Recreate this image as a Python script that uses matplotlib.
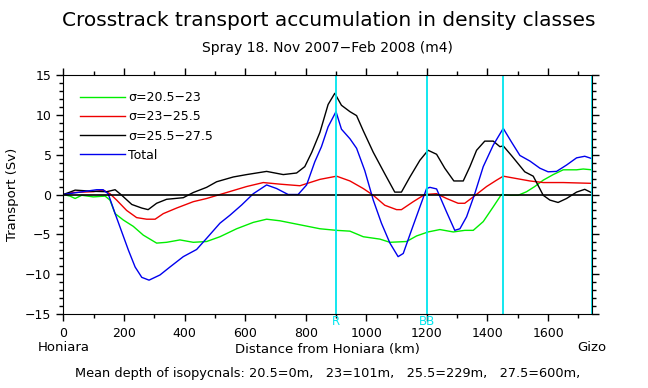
"""Crosstrack transport accumulation in density classes"""
import matplotlib

matplotlib.use("Agg")
import matplotlib.pyplot as plt
import matplotlib.transforms as mtransforms
from matplotlib.ticker import MultipleLocator

# distance along track (km) and accumulated transport (Sv)
km_green = [0, 22, 39, 61, 99, 138, 154, 171, 198, 231, 264, 308, 341, 385, 429, 473,
            517, 572, 627, 671, 715, 781, 847, 902, 946, 990, 1045, 1078, 1133, 1166,
            1204, 1243, 1287, 1325, 1353, 1386, 1419, 1446, 1474, 1501, 1529, 1556,
            1584, 1617, 1650, 1694, 1716, 1745]
sv_green = [0, -0.2, -0.5, -0.1, -0.3, -0.2, -0.7, -2.4, -3.2, -4.0, -5.1, -6.1, -6.0,
            -5.7, -6.0, -5.9, -5.3, -4.3, -3.5, -3.1, -3.3, -3.8, -4.3, -4.5, -4.6,
            -5.3, -5.6, -6.0, -5.9, -5.2, -4.7, -4.4, -4.7, -4.5, -4.5, -3.4, -1.55,
            0, -0.1, -0.1, 0.35, 1.0, 1.8, 2.5, 3.1, 3.1, 3.2, 3.1]

km_red = [0, 33, 99, 132, 154, 176, 209, 242, 275, 303, 330, 374, 429, 473, 539, 605,
          660, 715, 781, 847, 902, 946, 990, 1023, 1061, 1100, 1116, 1155, 1193, 1232,
          1265, 1303, 1325, 1353, 1397, 1430, 1452, 1496, 1540, 1584, 1650, 1745]
sv_red = [0, 0.25, 0.35, 0.55, 0.1, -0.7, -2.0, -2.9, -3.1, -3.1, -2.4, -1.7, -0.9,
          -0.5, 0.25, 1.0, 1.5, 1.3, 1.1, 1.9, 2.3, 1.7, 0.75, -0.1, -1.35, -1.9, -1.9,
          -0.9, 0, 0.1, -0.5, -1.1, -1.1, -0.3, 1.0, 1.8, 2.3, 2.0, 1.7, 1.5, 1.5, 1.4]

km_black = [0, 22, 39, 99, 143, 171, 193, 226, 259, 280, 308, 341, 396, 429, 473, 506,
            561, 605, 671, 726, 770, 797, 820, 847, 874, 896, 918, 946, 968, 990, 1023,
            1061, 1094, 1116, 1144, 1177, 1204, 1232, 1259, 1289, 1320, 1342, 1364,
            1391, 1419, 1441, 1452, 1479, 1523, 1551, 1584, 1606, 1633, 1661, 1694,
            1721, 1745]
sv_black = [0, 0.3, 0.55, 0.4, 0.35, 0.6, -0.1, -1.25, -1.7, -1.9, -1.1, -0.6, -0.4,
            0.25, 0.9, 1.6, 2.2, 2.5, 2.9, 2.5, 2.7, 3.5, 5.3, 7.8, 11.3, 12.7, 11.2,
            10.4, 9.9, 8.0, 5.3, 2.6, 0.3, 0.3, 2.2, 4.3, 5.55, 5.05, 3.3, 1.7, 1.7,
            3.5, 5.55, 6.7, 6.7, 6.0, 6.1, 4.9, 2.85, 2.3, -0.1, -0.7, -1.0, -0.5, 0.3,
            0.65, 0.2]

km_total = [0, 110, 131, 148, 171, 193, 215, 237, 259, 283, 319, 352, 396, 440, 473,
            517, 550, 589, 627, 671, 704, 742, 775, 803, 830, 852, 874, 900, 918, 946,
            968, 995, 1023, 1050, 1078, 1105, 1122, 1149, 1177, 1199, 1210, 1232, 1265,
            1292, 1309, 1331, 1358, 1386, 1419, 1452, 1479, 1507, 1540, 1573, 1600,
            1628, 1661, 1694, 1721, 1745]
sv_total = [0, 0.6, 0.6, 0.1, -2.4, -4.7, -7.0, -9.1, -10.4, -10.75, -10.1, -9.1, -7.8,
            -6.9, -5.5, -3.6, -2.6, -1.3, 0.1, 1.2, 0.75, 0, 0, 1.2, 4.1, 6.0, 8.5,
            10.4, 8.2, 7.0, 5.8, 3.0, -0.7, -3.6, -6.1, -7.8, -7.4, -4.5, -1.55, 0.75,
            0.9, 0.7, -2.2, -4.5, -4.3, -2.8, 0.1, 3.5, 6.2, 8.3, 6.6, 4.9, 4.2, 3.3,
            2.85, 2.9, 3.7, 4.6, 4.8, 4.5]

labels = ["σ=20.5−23", "σ=23−25.5", "σ=25.5−27.5", "Total"]
colors = ["#00ee00", "#ee0000", "black", "#0000ee"]

markers_km = [900, 1200, 1450, 1745]
markers_txt = ["R", "BB", "", ""]

fig = plt.figure(figsize=(6.48, 3.88), dpi=100)
ax = fig.add_axes([0.0977, 0.1907, 0.8159, 0.616])

series = [(km_green, sv_green), (km_red, sv_red), (km_black, sv_black), (km_total, sv_total)]
for (x, y), lab, col in zip(series, labels, colors):
    ax.plot(x, y, color=col, lw=1.0, label=lab)

ax.axhline(0, color="black", lw=1.2)

trans = mtransforms.blended_transform_factory(ax.transData, ax.transAxes)
for xk, txt in zip(markers_km, markers_txt):
    ax.axvline(xk, color="#00e5ee", lw=1.3)
    if txt:
        ax.text(xk, -0.003, txt, transform=trans, color="#00e5ee", ha="center",
                va="top", fontsize=8.5)

ax.set_xlim(0, 1745)
ax.set_ylim(-15, 15)
ax.xaxis.set_major_locator(MultipleLocator(200))
ax.xaxis.set_minor_locator(MultipleLocator(100))
ax.yaxis.set_major_locator(MultipleLocator(5))
ax.yaxis.set_minor_locator(MultipleLocator(1))
ax.tick_params(which="both", direction="out", top=True, right=True, labelsize=9,
               width=1.0)
ax.tick_params(which="major", length=5)
ax.tick_params(which="minor", length=3)
ax.tick_params(axis="x", pad=4)
ax.set_ylabel("Transport (Sv)", fontsize=9.5)
ax.yaxis.set_label_coords(-0.083, 0.5)

ax.legend(loc="upper left", bbox_to_anchor=(0.01, 0.98), frameon=False, fontsize=9,
          handlelength=3.6, handletextpad=0.25, labelspacing=0.5)

ax.text(0, -0.142, "Honiara", transform=trans, ha="center", va="center", fontsize=9.5)
ax.text(1745, -0.142, "Gizo", transform=trans, ha="center", va="center", fontsize=9.5)
ax.text(0.5, -0.15, "Distance from Honiara (km)", transform=ax.transAxes,
        ha="center", va="center", fontsize=9.5)

fig.text(0.508, 1 - 20 / 388, "Crosstrack transport accumulation in density classes",
         ha="center", va="center", fontsize=14.5)
fig.text(0.506, 1 - 48 / 388, "Spray 18. Nov 2007−Feb 2008 (m4)",
         ha="center", va="center", fontsize=10)
fig.text(0.506, 1 - 373 / 388,
         "Mean depth of isopycnals: 20.5=0m,   23=101m,   25.5=229m,   27.5=600m,",
         ha="center", va="center", fontsize=9.3)

fig.savefig("out.png", dpi=100)
